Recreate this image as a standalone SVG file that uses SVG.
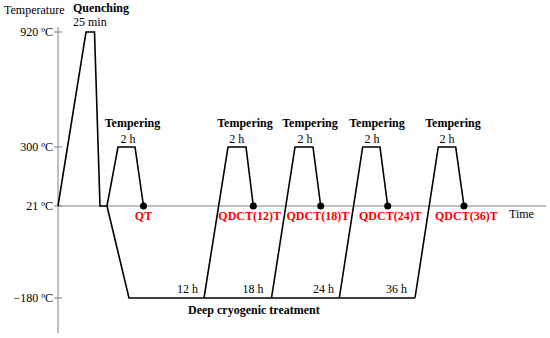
<svg xmlns="http://www.w3.org/2000/svg" width="550" height="338" viewBox="0 0 550 338">
<style>
.ax{stroke:#808080;stroke-width:1;fill:none}
.pr{stroke:#000;stroke-width:1.6;fill:none;stroke-linejoin:miter}
.t{font-family:"Liberation Serif","Times New Roman",serif;font-size:12px;fill:#000}
.b{font-weight:bold}
.r{fill:#ff0000;font-weight:bold}
.m{text-anchor:middle}
.e{text-anchor:end}
</style>
<rect width="550" height="338" fill="#fff"/>
<g id="axes">
<line class="ax" x1="58" y1="27" x2="58" y2="333"/>
<line class="ax" x1="58" y1="206" x2="546" y2="206"/>
<line class="ax" x1="54" y1="32" x2="62" y2="32"/>
<line class="ax" x1="54" y1="147" x2="62" y2="147"/>
<line class="ax" x1="54" y1="206" x2="62" y2="206"/>
<line class="ax" x1="54" y1="298" x2="62" y2="298"/>
<text class="t" x="4" y="14">Temperature</text>
<text class="t e" x="53" y="36">920 ºC</text>
<text class="t e" x="53" y="151">300 ºC</text>
<text class="t e" x="53" y="210">21 ºC</text>
<text class="t e" x="53" y="302">−180 ºC</text>
<text class="t" x="509" y="218">Time</text>
</g>
<g id="connectors">
<path class="pr" d="M58,206 L86,32 L94.5,32 L100,206 L107,206 L118,147 L135,147 L143.5,206"/>
<path class="pr" d="M107,206 L129,298 L415,298"/>
<path class="pr" d="M204,298 L228,147 L246,147 L253.3,206"/>
<path class="pr" d="M271.5,298 L295,147 L313,147 L320.7,206"/>
<path class="pr" d="M339.3,298 L362.7,147 L380,147 L387.7,206"/>
<path class="pr" d="M415,298 L438.3,147 L455.7,147 L464,206"/>
</g>
<g id="quenching">
<text class="t b" x="73" y="12">Quenching</text>
<text class="t" x="73" y="26">25 min</text>
</g>
<g id="qt">
<text class="t b m" x="132.5" y="127">Tempering</text>
<text class="t m" x="128" y="143">2 h</text>
<circle cx="143.5" cy="206" r="3.5"/>
<text class="t r m" x="143.5" y="220">QT</text>
</g>
<g id="qdct12">
<text class="t b m" x="245" y="127">Tempering</text>
<text class="t m" x="236.7" y="143">2 h</text>
<circle cx="253.3" cy="206" r="3.5"/>
<text class="t r" x="218.3" y="220">QDCT(12)T</text>
</g>
<g id="qdct18">
<text class="t b m" x="310" y="127">Tempering</text>
<text class="t m" x="305" y="143">2 h</text>
<circle cx="320.7" cy="206" r="3.5"/>
<text class="t r" x="286.5" y="220">QDCT(18)T</text>
</g>
<g id="qdct24">
<text class="t b m" x="377" y="127">Tempering</text>
<text class="t m" x="372" y="143">2 h</text>
<circle cx="387.7" cy="206" r="3.5"/>
<text class="t r" x="359" y="220">QDCT(24)T</text>
</g>
<g id="qdct36">
<text class="t b m" x="453" y="127">Tempering</text>
<text class="t m" x="447" y="143">2 h</text>
<circle cx="464" cy="206" r="3.5"/>
<text class="t r" x="435" y="220">QDCT(36)T</text>
</g>
<g id="cryogenic">
<text class="t e" x="198" y="293">12 h</text>
<text class="t e" x="263.5" y="293">18 h</text>
<text class="t e" x="334" y="293">24 h</text>
<text class="t e" x="407" y="293">36 h</text>
<text class="t b" x="188" y="314">Deep cryogenic treatment</text>
</g>
</svg>
